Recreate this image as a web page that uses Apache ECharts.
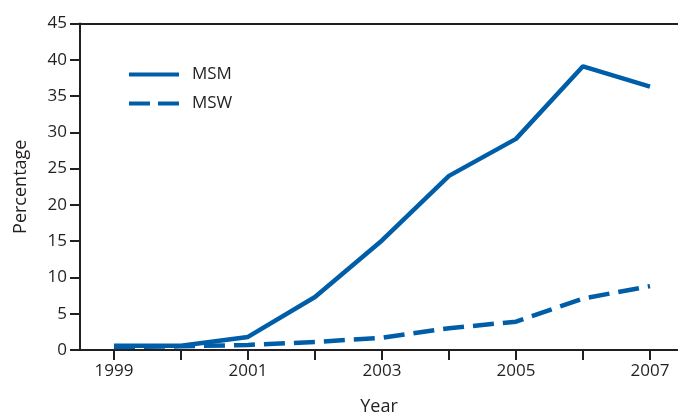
<!DOCTYPE html>
<html>
<head>
<meta charset="utf-8">
<script src="https://cdn.jsdelivr.net/npm/echarts@6/dist/echarts.min.js"></script>
<style>html,body{margin:0;padding:0;background:#fff;}#c{width:678px;height:416px;}</style>
</head>
<body>
<div id="c"></div>
<script>
var years = [1999, 2000, 2001, 2002, 2003, 2004, 2005, 2006, 2007];
var msm = [0.6, 0.6, 1.8, 7.3, 15.1, 24.0, 29.1, 39.1, 36.3];
var msw = [0.4, 0.5, 0.7, 1.1, 1.7, 3.0, 3.9, 7.1, 8.8];
var xLabelYears = [1999, 2001, 2003, 2005, 2007];

var blue = '#005ea9';
var ink = '#231f20';
var font = 'Open Sans';

function pairs(vals) { return years.map(function (y, i) { return [y, vals[i]]; }); }

var chart = echarts.init(document.getElementById('c'), null, { renderer: 'canvas' });
chart.setOption({
  animation: false,
  grid: { left: 80, right: 0, top: 23.5, bottom: 66, containLabel: false, outerBoundsMode: 'none' },
  legend: {
    orient: 'vertical', left: 129, top: 66, padding: 0, itemWidth: 50, itemHeight: 4.5, itemGap: 12,
    textStyle: { fontFamily: font, fontSize: 17, color: ink, padding: [0, 0, 0, 8] },
    data: [
      { name: 'MSM', icon: 'path://M0,0H50V4H0Z' },
      { name: 'MSW', icon: 'path://M0,0H21V4H0ZM29,0H50V4H29Z' }
    ]
  },
  xAxis: [{
    type: 'value', min: 1998.493, max: 2007.418,
    name: 'Year', nameLocation: 'middle', nameGap: 48,
    nameTextStyle: { fontFamily: font, fontSize: 18, color: ink },
    axisLine: { lineStyle: { color: ink, width: 2 } },
    axisTick: { show: true, length: 10, lineStyle: { color: ink, width: 2 }, customValues: years },
    axisLabel: { fontFamily: font, fontSize: 17, color: ink, margin: 13, customValues: xLabelYears, formatter: function (v) { return String(v); } },
    splitLine: { show: false }
  }, {
    type: 'value', position: 'top', min: 0, max: 1,
    axisLine: { show: true, onZero: false, lineStyle: { color: ink, width: 2 } },
    axisTick: { show: false }, axisLabel: { show: false }, splitLine: { show: false }
  }],
  yAxis: {
    type: 'value', min: 0, max: 45, interval: 5,
    name: 'Percentage', nameLocation: 'middle', nameGap: 50,
    nameTextStyle: { fontFamily: font, fontSize: 18, color: ink },
    axisLine: { show: true, lineStyle: { color: ink, width: 2 } },
    axisTick: { show: true, length: 10, lineStyle: { color: ink, width: 2 } },
    axisLabel: { fontFamily: font, fontSize: 17, color: ink, margin: 13 },
    splitLine: { show: false }
  },
  series: [{
    name: 'MSM', type: 'line', data: pairs(msm), symbol: 'none', z: 3,
    lineStyle: { color: blue, width: 4.5 }, itemStyle: { color: blue }
  }, {
    name: 'MSW', type: 'line', data: pairs(msw), symbol: 'none', z: 2,
    lineStyle: { color: blue, width: 4.5, type: [21, 9] }, itemStyle: { color: blue }
  }]
});
</script>
</body>
</html>
